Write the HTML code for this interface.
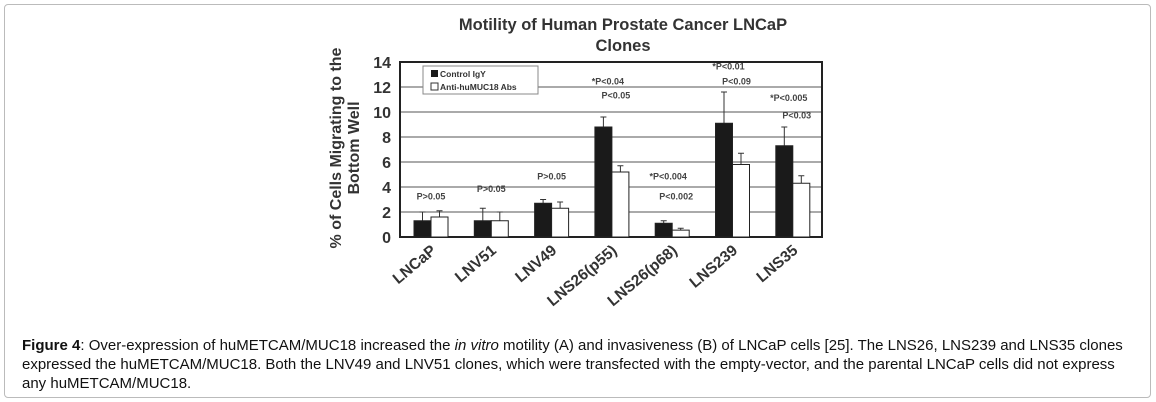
<!DOCTYPE html>
<html><head><meta charset="utf-8"><style>
body{margin:0;width:1156px;height:402px;background:#fff;font-family:"Liberation Sans",Arial,sans-serif;overflow:hidden}
#frame{position:absolute;left:4px;top:4px;width:1145px;height:392px;border:1px solid #bbb;border-radius:4px}
#cap{position:absolute;left:22px;top:336px;width:1125px;font-size:15px;line-height:19px;color:#111;white-space:nowrap}
</style></head><body>
<div id="frame"></div>
<svg width="1156" height="340" style="position:absolute;left:0;top:0">
<text x="623" y="30" text-anchor="middle" font-weight="bold" font-size="16.5" fill="#333">Motility of Human Prostate Cancer LNCaP</text>
<text x="623" y="51" text-anchor="middle" font-weight="bold" font-size="16.5" fill="#333">Clones</text>
<g transform="translate(345,148) rotate(-90)">
<text x="0" y="-4" text-anchor="middle" font-weight="bold" font-size="16" fill="#333">% of Cells Migrating to the</text>
<text x="0" y="14" text-anchor="middle" font-weight="bold" font-size="16" fill="#333">Bottom Well</text>
</g>
<g id="plot"></g>
</svg>
<div id="cap"><b>Figure 4</b>: Over-expression of huMETCAM/MUC18 increased the <i>in vitro</i> motility (A) and invasiveness (B) of LNCaP cells [25]. The LNS26, LNS239 and LNS35 clones<br>expressed the huMETCAM/MUC18. Both the LNV49 and LNV51 clones, which were transfected with the empty-vector, and the parental LNCaP cells did not express<br>any huMETCAM/MUC18.</div>
<script>
const categories=["LNCaP","LNV51","LNV49","LNS26(p55)","LNS26(p68)","LNS239","LNS35"];
const controlVals=[1.3,1.3,2.7,8.8,1.1,9.1,7.3];
const controlErr=[0.7,1.0,0.3,0.8,0.2,2.5,1.5];
const antiVals=[1.6,1.3,2.3,5.2,0.55,5.8,4.3];
const antiErr=[0.5,0.7,0.5,0.5,0.15,0.9,0.6];
const yTicks=[0,2,4,6,8,10,12,14];
const pLabels=[["P>0.05"],["P>0.05"],["P>0.05"],["*P<0.04","P<0.05"],["*P<0.004","P<0.002"],["*P<0.01","P<0.09"],["*P<0.005","P<0.03"]];
const pValueY=[[3.0],[3.6],[4.6],[12.2,11.1],[4.6,3.0],[13.4,12.2],[10.9,9.5]];
const NS="http://www.w3.org/2000/svg";
const L=400,R=822,T=62,B=237,yMax=14;
const y=v=>B-(v/yMax)*(B-T);
const gx=i=>414+i*60.3;
const bw=17;
const g=document.getElementById('plot');
function mk(t,a){const e=document.createElementNS(NS,t);for(const k in a)e.setAttribute(k,a[k]);g.appendChild(e);return e;}
yTicks.forEach(t=>{
 if(t>0&&t<14){const l=mk('line',{x1:L,x2:R,y1:y(t),y2:y(t),stroke:'#555','stroke-width':1});
 
 }
 const tx=mk('text',{x:391,y:y(t)+6,'text-anchor':'end','font-size':16,'font-weight':'bold',fill:'#333'});tx.textContent=t;
 
 
});
const fr=mk('rect',{x:L,y:T,width:R-L,height:B-T,fill:'none',stroke:'#222','stroke-width':2});


categories.forEach((c,i)=>{
 const x0=gx(i);
 [[controlVals,controlErr,'#1a1a1a',x0,'control-bar'],[antiVals,antiErr,'#fff',x0+bw,'anti-bar']].forEach(([vals,err,fill,x,nm])=>{
  const top=vals[i]+err[i];
  const e=mk('path',{d:`M${x+bw/2},${y(vals[i])}V${y(top)}M${x+bw/2-3},${y(top)}H${x+bw/2+3}`,stroke:'#333','stroke-width':1,fill:'none'});
  
  
  const r=mk('rect',{x:x,y:y(vals[i]),width:bw,height:B-y(vals[i]),fill:fill,stroke:'#222','stroke-width':1});
  
  
 });
 pLabels[i].forEach((p,j)=>{
  const t=mk('text',{x:x0+bw+(j?4:-4),y:y(pValueY[i][j]),'text-anchor':'middle','font-size':9,'font-weight':'bold',fill:'#444'});
  if(pLabels[i].length==1)t.setAttribute('x',x0+bw);
  t.textContent=p;
  
  
 });
 const cx=x0+bw+6;
 const lt=mk('text',{x:cx,y:252,'text-anchor':'end','font-size':15.5,'font-weight':'bold',fill:'#333',transform:`rotate(-40 ${cx} 252)`});
 lt.textContent=c;
 
 
});
const lg=mk('rect',{x:423,y:66,width:115,height:28,fill:'#fff',stroke:'#888','stroke-width':1});


const s1=mk('rect',{x:431,y:70,width:7,height:7,fill:'#1a1a1a'});


const s2=mk('rect',{x:431,y:83,width:7,height:7,fill:'#fff',stroke:'#333'});


const t1=mk('text',{x:440,y:77,'font-size':8.5,'font-weight':'bold',fill:'#333'});t1.textContent='Control IgY';


const t2=mk('text',{x:440,y:90,'font-size':8.5,'font-weight':'bold',fill:'#333'});t2.textContent='Anti-huMUC18 Abs';


</script>
</body></html>
